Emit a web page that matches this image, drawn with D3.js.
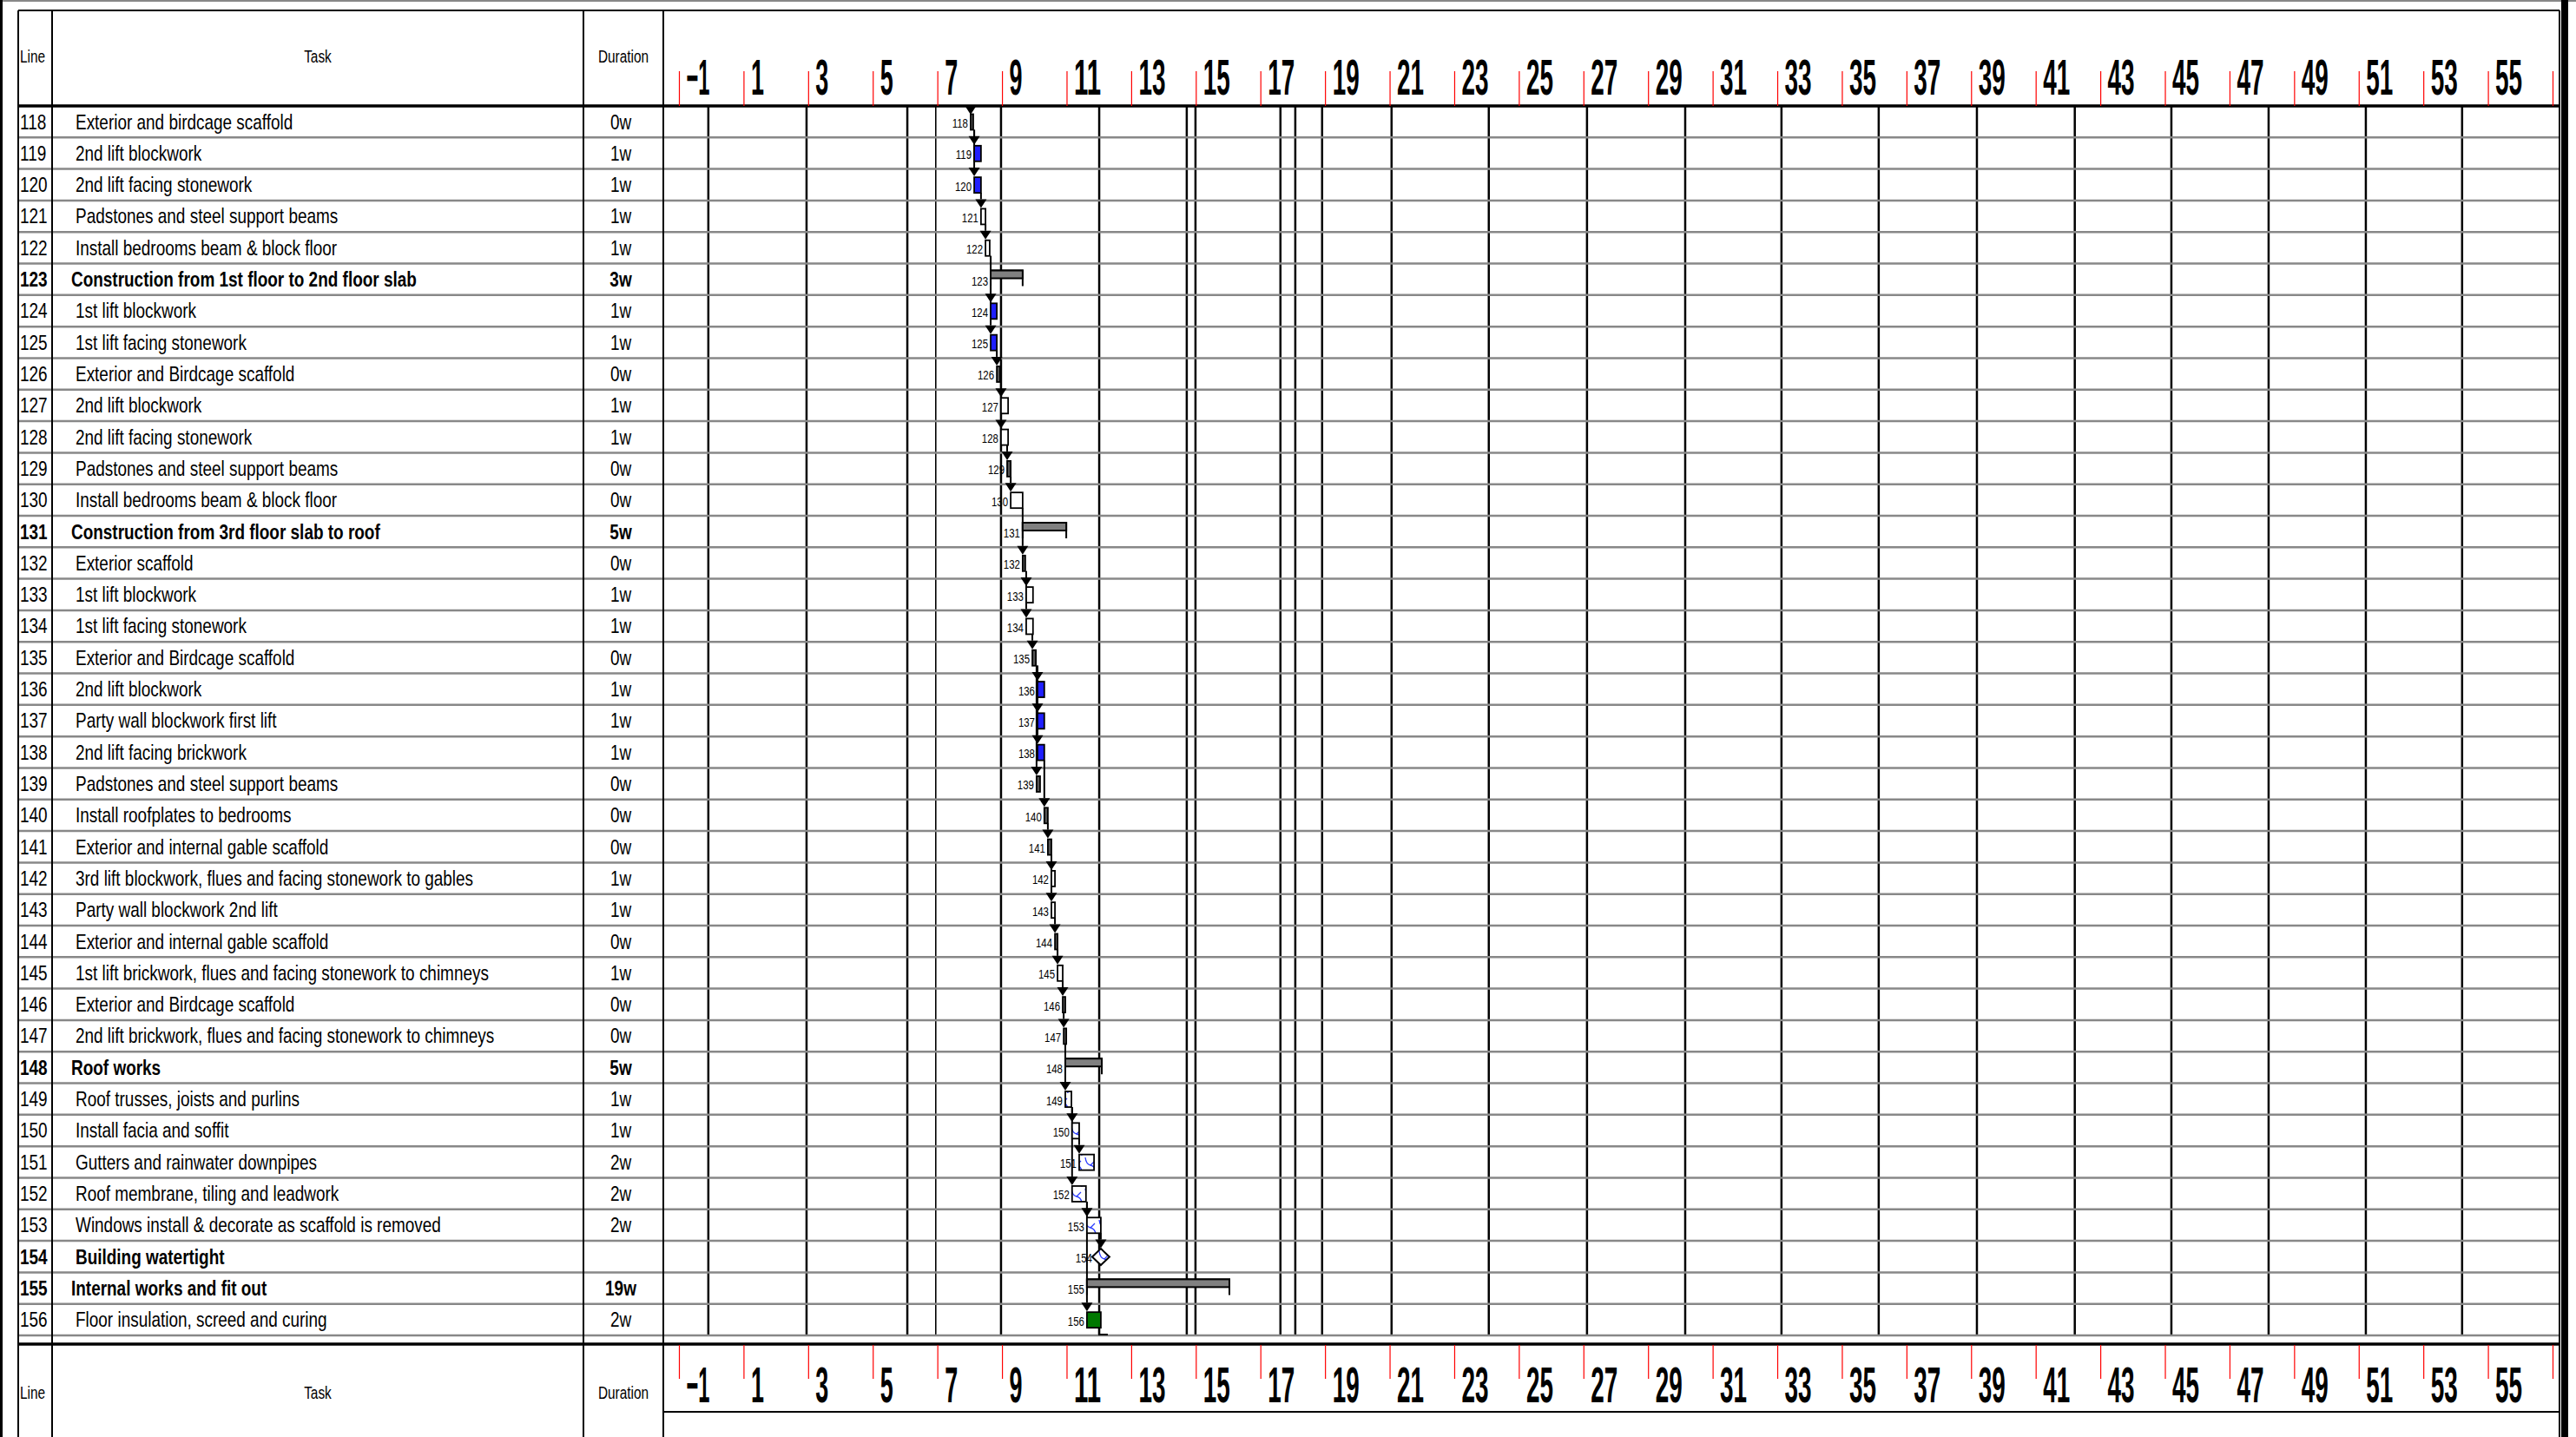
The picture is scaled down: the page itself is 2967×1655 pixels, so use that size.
<!DOCTYPE html>
<html>
<head>
<meta charset="utf-8">
<script src="https://cdn.jsdelivr.net/npm/d3@7"></script>
<style>
  body { margin: 0; background: #fff; }
  text { font-family: "Liberation Sans", Arial, sans-serif; }
</style>
</head>
<body>
<div id="chart"></div>
<script>

// task table
var lines = [118,119,120,121,122,123,124,125,126,127,128,129,130,131,132,133,134,135,136,137,
             138,139,140,141,142,143,144,145,146,147,148,149,150,151,152,153,154,155,156];
var tasks = [
  "Exterior and birdcage scaffold", "2nd lift blockwork", "2nd lift facing stonework",
  "Padstones and steel support beams", "Install bedrooms beam & block floor",
  "Construction from 1st floor to 2nd floor slab", "1st lift blockwork", "1st lift facing stonework",
  "Exterior and Birdcage scaffold", "2nd lift blockwork", "2nd lift facing stonework",
  "Padstones and steel support beams", "Install bedrooms beam & block floor",
  "Construction from 3rd floor slab to roof", "Exterior scaffold", "1st lift blockwork",
  "1st lift facing stonework", "Exterior and Birdcage scaffold", "2nd lift blockwork",
  "Party wall blockwork first lift", "2nd lift facing brickwork", "Padstones and steel support beams",
  "Install roofplates to bedrooms", "Exterior and internal gable scaffold",
  "3rd lift blockwork, flues and facing stonework to gables", "Party wall blockwork 2nd lift",
  "Exterior and internal gable scaffold", "1st lift brickwork, flues and facing stonework to chimneys",
  "Exterior and Birdcage scaffold", "2nd lift brickwork, flues and facing stonework to chimneys",
  "Roof works", "Roof trusses, joists and purlins", "Install facia and soffit",
  "Gutters and rainwater downpipes", "Roof membrane, tiling and leadwork",
  "Windows install & decorate as scaffold is removed", "Building watertight",
  "Internal works and fit out", "Floor insulation, screed and curing"];
var durations = ["0w","1w","1w","1w","1w","3w","1w","1w","0w","1w","1w","0w","0w","5w","0w","1w",
                 "1w","0w","1w","1w","1w","0w","0w","0w","1w","1w","0w","1w","0w","0w","5w","1w",
                 "1w","2w","2w","2w","","19w","2w"];
var boldRows = [123, 131, 148, 154, 155];

// gantt bars, in weeks
var barStart  = [8.03,8.14,8.14,8.35,8.49,8.65,8.65,8.65,8.84,8.97,8.97,9.16,9.27,9.64,9.64,9.75,
                 9.75,9.94,10.10,10.10,10.10,10.07,10.31,10.42,10.53,10.53,10.64,10.72,10.88,10.91,
                 10.96,10.96,11.17,11.39,11.17,11.63,12.06,11.63,11.63];
var barFinish = [8.11,8.35,8.35,8.49,8.62,9.64,8.84,8.84,8.94,9.19,9.19,9.27,9.64,10.99,9.72,9.96,
                 9.96,10.05,10.31,10.31,10.31,10.18,10.42,10.53,10.64,10.64,10.72,10.88,10.96,10.99,
                 12.09,11.15,11.39,11.85,11.60,12.06,12.06,16.04,12.06];
// d = zero length, b = blue, w = white, s = summary, h = patterned, m = milestone, g = green
var barType = ["d","b","b","w","w","s","b","b","d","w","w","d","w","s","d","w","w","d","b","b",
               "b","d","d","d","w","w","d","w","d","d","s","h","h","h","h","h","m","s","g"];
var preds = [null,118,118,120,121,null,122,122,125,126,126,128,129,null,130,132,132,134,135,135,
             135,135,138,140,141,141,143,144,145,146,null,147,149,150,149,152,153,null,152];

// time scale
var weekTicks = [-1,1,3,5,7,9,11,13,15,17,19,21,23,25,27,29,31,33,35,37,39,41,43,45,47,49,51,53,55,57];
var calendarLines = [-0.09,2.95,6.07,8.97,12.01,14.72,14.99,17.62,18.08,18.91,21.06,24.07,27.11,
                     30.15,33.13,36.14,39.18,42.21,45.2,48.21,51.22,54.2];
var statusLine = [6.95];

var W = 2967, H = 1655;
var left = 21, colLine = 60, colTask = 672, colDur = 764, right = 2948;
var headTop = 12, bodyTop = 122, bodyBottom = 1538, footTop = 1548;
var narrow = 0.79;   // the sheet uses a narrow face

var svg = d3.select("#chart").append("svg")
    .attr("width", W)
    .attr("height", H);

svg.append("rect").attr("width", W).attr("height", H).attr("fill", "#fff");

var x = d3.scaleLinear().domain([-1, 57]).range([782, 2940]);
var y = d3.scaleBand().domain(lines).range([bodyTop, bodyBottom]);
var rh = y.bandwidth();

// put narrow text at (px, py)
function narrowText(g, px, py) {
  return g.append("text")
      .attr("transform", "scale(" + narrow + ",1)")
      .attr("x", px / narrow)
      .attr("y", py);
}

var defs = svg.append("defs");
var pat = defs.append("pattern")
    .attr("id", "hatch")
    .attr("patternUnits", "userSpaceOnUse")
    .attr("width", 16).attr("height", 18);
pat.append("rect").attr("width", 16).attr("height", 18).attr("fill", "#fff");
pat.append("path")
    .attr("d", "M2,1 Q3,9 8,10 Q13,11 14,17 M8,10 L13,5")
    .attr("fill", "none").attr("stroke", "#2a3cff").attr("stroke-width", 1.3);

// outer frame
svg.append("line").attr("x1", 0).attr("x2", W).attr("y1", 1).attr("y2", 1)
    .attr("stroke", "#888").attr("stroke-width", 2);
svg.append("rect").attr("x", 0).attr("y", 0).attr("width", 3).attr("height", H).attr("fill", "#000");
svg.append("rect").attr("x", 2950).attr("y", 0).attr("width", 8).attr("height", H).attr("fill", "#000");

// calendar gridlines
svg.append("g").selectAll("line")
  .data(calendarLines)
  .join("line")
    .attr("x1", function(d) { return x(d); })
    .attr("x2", function(d) { return x(d); })
    .attr("y1", bodyTop).attr("y2", bodyBottom)
    .attr("stroke", "#000").attr("stroke-width", 2.5);
svg.append("g").selectAll("line")
  .data(statusLine)
  .join("line")
    .attr("x1", function(d) { return x(d); })
    .attr("x2", function(d) { return x(d); })
    .attr("y1", bodyTop).attr("y2", bodyBottom)
    .attr("stroke", "#000").attr("stroke-width", 1.6);

// row separators
svg.append("g").selectAll("line")
  .data(lines)
  .join("line")
    .attr("x1", left).attr("x2", right)
    .attr("y1", function(d) { return y(d) + rh; })
    .attr("y2", function(d) { return y(d) + rh; })
    .attr("stroke", "#888").attr("stroke-width", 2.5);

// table frame
svg.append("line").attr("x1", left).attr("x2", right).attr("y1", headTop).attr("y2", headTop)
    .attr("stroke", "#000").attr("stroke-width", 2);
[bodyTop, footTop].forEach(function(yy) {
  svg.append("line").attr("x1", left).attr("x2", right).attr("y1", yy).attr("y2", yy)
      .attr("stroke", "#000").attr("stroke-width", 3.5);
});
svg.append("line").attr("x1", colDur).attr("x2", right).attr("y1", 1626).attr("y2", 1626)
    .attr("stroke", "#000").attr("stroke-width", 2);
[left, colLine, colTask, colDur, right].forEach(function(xx) {
  svg.append("line").attr("x1", xx).attr("x2", xx).attr("y1", headTop).attr("y2", H)
      .attr("stroke", "#000").attr("stroke-width", 2);
});

// column headers, top and bottom
[72, 1611].forEach(function(by) {
  var g = svg.append("g").attr("font-size", 19.5);
  narrowText(g, 23, by).text("Line");
  narrowText(g, (colLine + colTask) / 2, by).attr("text-anchor", "middle").text("Task");
  narrowText(g, (colTask + colDur) / 2, by).attr("text-anchor", "middle").text("Duration");
});

// time axes
function styleAxis(g, labelY) {
  g.select(".domain").remove();
  g.selectAll(".tick line").attr("stroke", "#f00").attr("stroke-width", 1.2);
  g.selectAll(".tick text")
      .attr("x", 8).attr("y", labelY).attr("dy", 0)
      .attr("text-anchor", "start")
      .attr("fill", "#000")
      .attr("font-size", 57)
      .attr("font-weight", "bold")
      .attr("font-family", "'Liberation Sans', Arial, sans-serif")
      .attr("lengthAdjust", "spacingAndGlyphs")
      .attr("textLength", function(d) { var s = String(d); return s.length === 1 ? 15 : (d < 0 ? 27 : 31); })
      .filter(function(d) { return d === 57; }).remove();
}
svg.append("g")
    .attr("transform", "translate(0," + bodyTop + ")")
    .call(d3.axisTop(x).tickValues(weekTicks).tickSize(40).tickFormat(d3.format("d")))
    .call(styleAxis, -13);
svg.append("g")
    .attr("transform", "translate(0," + (footTop + 1) + ")")
    .call(d3.axisBottom(x).tickValues(weekTicks).tickSize(39).tickFormat(d3.format("d")))
    .call(styleAxis, 66);

// table rows
var rows = svg.append("g").selectAll("g")
  .data(lines)
  .join("g")
    .attr("transform", function(d) { return "translate(0," + (y(d) + 26.5) + ")"; })
    .attr("font-size", 24)
    .attr("font-weight", function(d) { return boldRows.indexOf(d) >= 0 ? "bold" : "normal"; });
rows.each(function(d, i) {
  var g = d3.select(this);
  narrowText(g, 23, 0).text(d);
  narrowText(g, barType[i] === "s" ? 82 : 87, 0).text(tasks[i]);
  narrowText(g, (colTask + colDur) / 2 - 3, 0).attr("text-anchor", "middle").text(durations[i]);
});

// links
var links = svg.append("g");
function arrowHead(sx, top) {
  links.append("path")
      .attr("d", "M" + (sx - 6.5) + "," + top + "L" + (sx + 6.5) + "," + top + "L" + sx + "," + (top + 10) + "Z")
      .attr("fill", "#000");
}
lines.forEach(function(line, i) {
  var p = preds[i];
  if (p === null) return;
  var j = lines.indexOf(p);
  var px = x(barFinish[j]), sx = x(barStart[i]);
  var y0 = y(p) + 27.5, y1 = y(line) - 1.5;
  var d = Math.abs(px - sx) < 3 ? "M" + sx + "," + y0 + "V" + y1
        : "M" + px + "," + y0 + "V" + (y0 + 5) + "H" + sx + "V" + y1;
  links.append("path").attr("d", d).attr("fill", "none").attr("stroke", "#000").attr("stroke-width", 2);
  arrowHead(sx, y1);
});
// link coming in from the previous page and going out to the next
links.append("path")
    .attr("d", "M" + x(barStart[0]) + "," + bodyTop + "V" + (bodyTop + 3))
    .attr("stroke", "#000").attr("stroke-width", 2);
arrowHead(x(barStart[0]), bodyTop);
var last = lines.length - 1;
links.append("path")
    .attr("d", "M" + (x(barFinish[last]) - 2) + "," + (y(lines[last]) + 27.5) + "V" + (bodyBottom - 1) + "h10")
    .attr("fill", "none").attr("stroke", "#000").attr("stroke-width", 2);

// bars
var fills = { d: "#555", b: "#1f1fff", w: "#fff", h: "url(#hatch)", g: "#007800" };
var bars = svg.append("g");
lines.forEach(function(line, i) {
  var t = barType[i], top = y(line);
  var s = x(barStart[i]), f = x(barFinish[i]);
  if (t === "s") {
    bars.append("path")
        .attr("d", "M" + s + "," + (top + 26) + "V" + (top + 8) + "H" + f + "V" + (top + 26))
        .attr("fill", "none").attr("stroke", "#000").attr("stroke-width", 2);
    bars.append("rect")
        .attr("x", s).attr("y", top + 8).attr("width", f - s).attr("height", 9)
        .attr("fill", "#808080").attr("stroke", "#000").attr("stroke-width", 2);
  } else if (t === "m") {
    var cy = top + 18.5;
    bars.append("path")
        .attr("d", "M" + s + "," + (cy - 9.5) + "L" + (s + 10) + "," + cy + "L" + s + "," + (cy + 9.5) + "L" + (s - 10) + "," + cy + "Z")
        .attr("fill", "url(#hatch)").attr("stroke", "#000").attr("stroke-width", 2);
  } else {
    bars.append("rect")
        .attr("x", s).attr("y", top + 9.5).attr("width", Math.max(f - s, 3)).attr("height", 18)
        .attr("fill", fills[t]).attr("stroke", "#000").attr("stroke-width", 1.8);
  }
  narrowText(bars, s - (t === "m" ? 10 : 3), top + 25)
      .attr("text-anchor", "end")
      .attr("font-size", 14.5)
      .text(line);
});

</script>
</body>
</html>
